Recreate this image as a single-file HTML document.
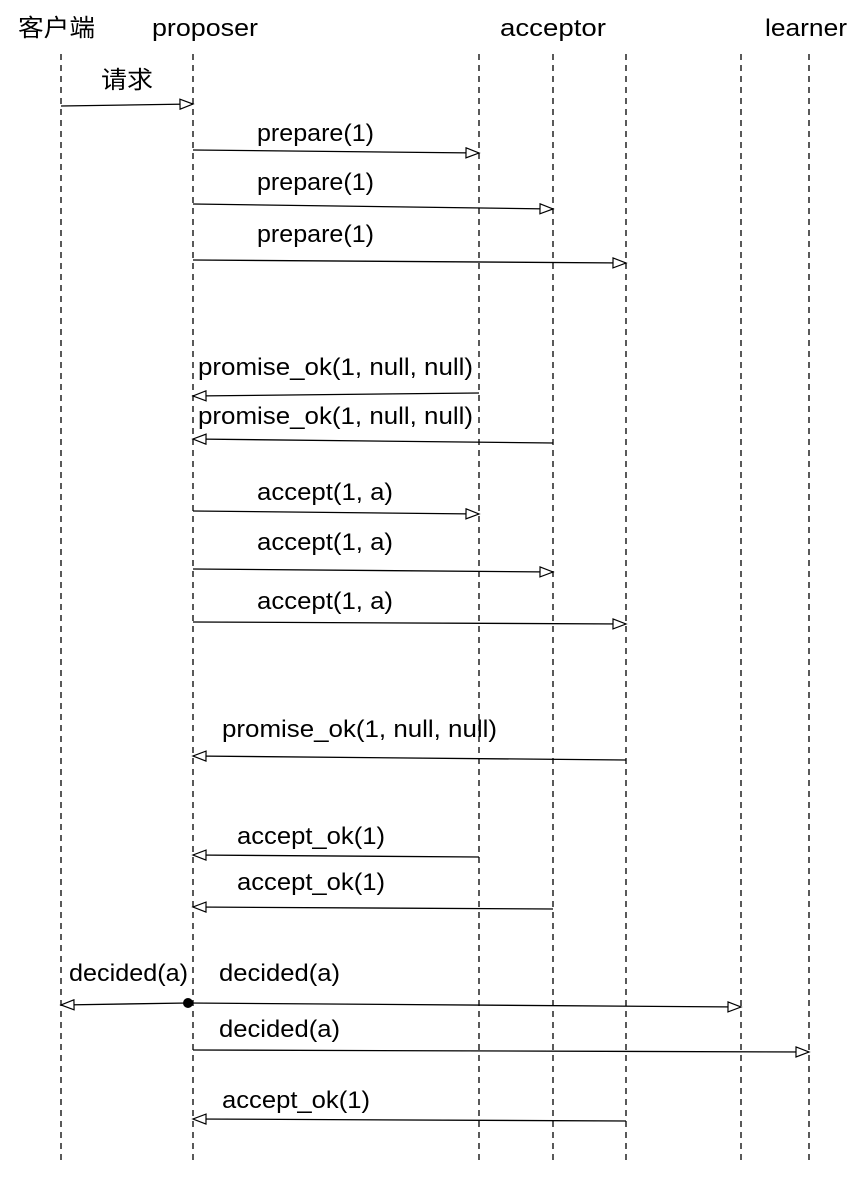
<!DOCTYPE html>
<html><head><meta charset="utf-8"><style>
html,body{margin:0;padding:0;background:#fff}
svg{display:block}
text{font-family:"Liberation Sans","Noto Sans CJK SC",sans-serif;font-size:24px;fill:#000}
</style></head><body>
<svg width="868" height="1182" viewBox="0 0 868 1182" xmlns="http://www.w3.org/2000/svg">
<defs>
<marker id="a" markerWidth="16" markerHeight="12" refX="14" refY="6" orient="auto" markerUnits="userSpaceOnUse">
<path d="M1,1 L14,6 L1,11 Z" fill="#fff" stroke="#000" stroke-width="1.2"/>
</marker>
</defs>
<g stroke="#000" stroke-width="1.3" stroke-dasharray="6,5">
<line x1="61" y1="54" x2="61" y2="1162"/>
<line x1="193" y1="54" x2="193" y2="1162"/>
<line x1="479" y1="54" x2="479" y2="1162"/>
<line x1="553" y1="54" x2="553" y2="1162"/>
<line x1="626" y1="54" x2="626" y2="1162"/>
<line x1="741" y1="54" x2="741" y2="1162"/>
<line x1="809" y1="54" x2="809" y2="1162"/>
</g>
<g lengthAdjust="spacingAndGlyphs">
<text x="18" y="36" textLength="77" lengthAdjust="spacingAndGlyphs">客户端</text>
<text x="152" y="36" textLength="106" lengthAdjust="spacingAndGlyphs">proposer</text>
<text x="500" y="36" textLength="106" lengthAdjust="spacingAndGlyphs">acceptor</text>
<text x="765" y="36" textLength="82" lengthAdjust="spacingAndGlyphs">learner</text>
</g>
<g stroke="#000" stroke-width="1.3" fill="none" marker-end="url(#a)">
<line x1="61" y1="106" x2="193" y2="104"/>
<line x1="193" y1="150" x2="479" y2="153"/>
<line x1="193" y1="204" x2="553" y2="209"/>
<line x1="193" y1="260" x2="626" y2="263"/>
<line x1="479" y1="393" x2="193" y2="396"/>
<line x1="553" y1="443" x2="193" y2="439"/>
<line x1="193" y1="511" x2="479" y2="514"/>
<line x1="193" y1="569" x2="553" y2="572"/>
<line x1="193" y1="622" x2="626" y2="624"/>
<line x1="626" y1="760" x2="193" y2="756"/>
<line x1="479" y1="857" x2="193" y2="855"/>
<line x1="553" y1="909" x2="193" y2="907"/>
<line x1="188" y1="1003" x2="61" y2="1005"/>
<line x1="188" y1="1003" x2="741" y2="1007"/>
<line x1="193" y1="1050" x2="809" y2="1052"/>
<line x1="626" y1="1121" x2="193" y2="1119"/>
</g>
<circle cx="188" cy="1003" r="5" fill="#000"/>
<text x="101" y="88" textLength="52" lengthAdjust="spacingAndGlyphs">请求</text>
<text x="257" y="141" textLength="117" lengthAdjust="spacingAndGlyphs">prepare(1)</text>
<text x="257" y="190" textLength="117" lengthAdjust="spacingAndGlyphs">prepare(1)</text>
<text x="257" y="242" textLength="117" lengthAdjust="spacingAndGlyphs">prepare(1)</text>
<text x="198" y="375" textLength="275" lengthAdjust="spacingAndGlyphs">promise_ok(1, null, null)</text>
<text x="198" y="424" textLength="275" lengthAdjust="spacingAndGlyphs">promise_ok(1, null, null)</text>
<text x="257" y="500" textLength="136" lengthAdjust="spacingAndGlyphs">accept(1, a)</text>
<text x="257" y="550" textLength="136" lengthAdjust="spacingAndGlyphs">accept(1, a)</text>
<text x="257" y="609" textLength="136" lengthAdjust="spacingAndGlyphs">accept(1, a)</text>
<text x="222" y="737" textLength="275" lengthAdjust="spacingAndGlyphs">promise_ok(1, null, null)</text>
<text x="237" y="844" textLength="148" lengthAdjust="spacingAndGlyphs">accept_ok(1)</text>
<text x="237" y="890" textLength="148" lengthAdjust="spacingAndGlyphs">accept_ok(1)</text>
<text x="69" y="981" textLength="119" lengthAdjust="spacingAndGlyphs">decided(a)</text>
<text x="219" y="981" textLength="121" lengthAdjust="spacingAndGlyphs">decided(a)</text>
<text x="219" y="1037" textLength="121" lengthAdjust="spacingAndGlyphs">decided(a)</text>
<text x="222" y="1108" textLength="148" lengthAdjust="spacingAndGlyphs">accept_ok(1)</text>
</svg>
</body></html>
